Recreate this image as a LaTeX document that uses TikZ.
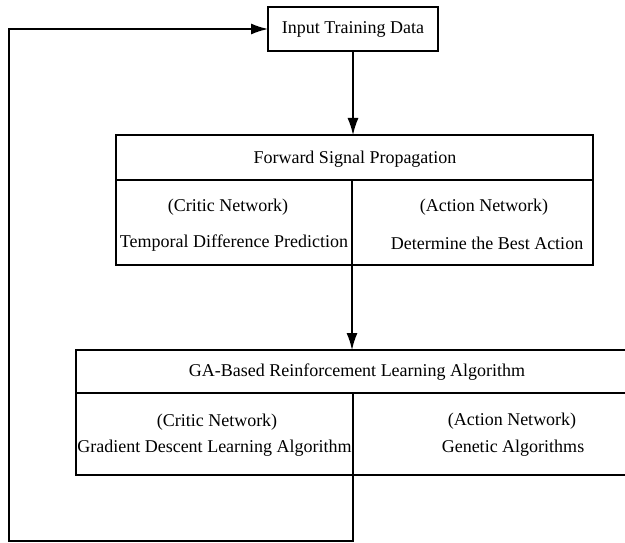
\documentclass[tikz,border=0pt]{standalone}
\usepackage{fontspec}
\setmainfont{Liberation Serif}
\usetikzlibrary{arrows.meta}
\begin{document}
\begin{tikzpicture}[x=1pt,y=-1pt,
  box/.style={draw,line width=1.5pt,inner sep=0pt,outer sep=0pt,rectangle},
  cell/.style={draw,line width=1.2pt,inner sep=0pt,outer sep=0pt,rectangle},
  lbl/.style={inner sep=0pt,font=\fontsize{18}{20}\selectfont},
  conn/.style={line width=1.5pt},
  arr/.style={conn,-{Latex[length=17pt,width=11pt]}}]
\clip (0,0) rectangle (625,543);
\fill[white] (0,0) rectangle (625,543);
% input
\node[box,minimum width=170pt,minimum height=44pt,font=\fontsize{18}{20}\selectfont] (input) at (353,29) {Input Training Data};
% forward block
\node[box,minimum width=477pt,minimum height=45pt] (fhead) at (354.5,157.5) {};
\node[cell,minimum width=236pt,minimum height=85pt] (fcritic) at (234,222.5) {};
\node[cell,minimum width=241pt,minimum height=85pt] (faction) at (472.5,222.5) {};
\draw[line width=1.5pt] (fcritic.north west) -- (fcritic.south west) -- (faction.south east) -- (faction.north east);
\node[lbl] (ftitle) at (355,159) {Forward Signal Propagation};
\node[lbl] (fc1) at (228,207) {(Critic Network)};
\node[lbl] (fc2) at (234,243) {Temporal Difference Prediction};
\node[lbl] (fa1) at (484,207) {(Action Network)};
\node[lbl] (fa2) at (487,243) {Determine the Best Action};
% GA block
\node[box,minimum width=564pt,minimum height=43pt] (ghead) at (358,371.5) {};
\node[cell,minimum width=277pt,minimum height=82pt] (gcritic) at (214.5,434) {};
\node[cell,minimum width=287pt,minimum height=82pt] (gaction) at (496.5,434) {};
\draw[line width=1.5pt] (gcritic.north west) -- (gcritic.south west) -- (gaction.south east);
\node[lbl] (gtitle) at (357,372) {GA-Based Reinforcement Learning Algorithm};
\node[lbl] (gc1) at (217,422) {(Critic Network)};
\node[lbl] (gc2) at (214.5,448) {Gradient Descent Learning Algorithm};
\node[lbl] (ga1) at (512,421) {(Action Network)};
\node[lbl] (ga2) at (513,448) {Genetic Algorithms};
% connectors
\draw[arr] (input.south) -- (input.south |- fhead.north);
\draw[arr] (fcritic.south east) -- (fcritic.south east |- ghead.north);
\coordinate (loopA) at (353,541);
\coordinate (loopB) at (9,541);
\draw[arr] (gcritic.south east) -- (loopA) -- (loopB) -- (loopB |- input.west) -- (input.west);
\end{tikzpicture}
\end{document}
